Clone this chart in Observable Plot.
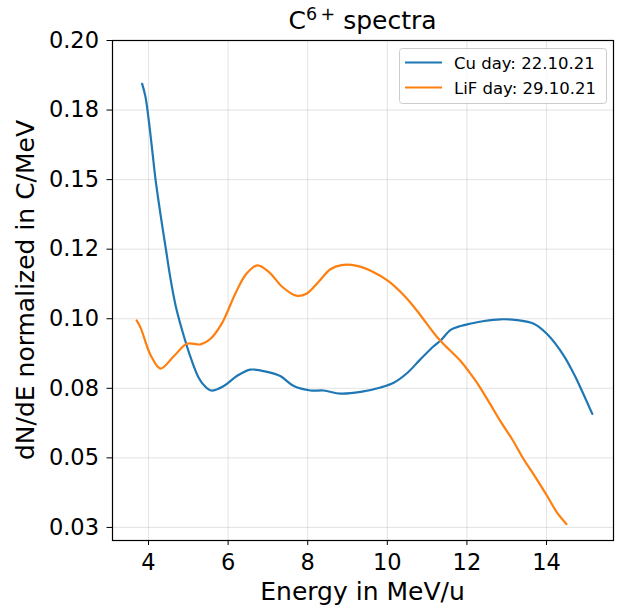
<!DOCTYPE html>
<html>
<head>
<meta charset="utf-8">
<script src="https://cdn.jsdelivr.net/npm/d3@7"></script>
<script src="https://cdn.jsdelivr.net/npm/@observablehq/plot@0.6"></script>
<style>
  html, body { margin: 0; padding: 0; background: white; }
  #chart { width: 617px; height: 610px; }
</style>
</head>
<body>
<div id="chart"></div>
<script>
// ---- data ----
const cuEnergy = [3.84, 3.92, 4.00, 4.09, 4.18, 4.30, 4.43, 4.55, 4.68, 4.85, 5.06, 5.26, 5.40, 5.58, 5.89, 6.22, 6.56, 6.98, 7.31, 7.65, 8.07, 8.40, 8.82, 9.33, 9.83, 10.16, 10.50, 10.83, 11.17, 11.34, 11.59, 11.84, 12.10, 12.43, 12.84, 13.26, 13.68, 14.02, 14.44, 14.65, 14.77, 15.15];
const cuValue  = [0.1844, 0.1800, 0.1720, 0.1610, 0.1496, 0.1376, 0.1256, 0.1146, 0.1048, 0.0956, 0.0860, 0.0788, 0.0760, 0.0742, 0.0758, 0.0794, 0.0817, 0.0809, 0.0794, 0.0758, 0.0742, 0.0742, 0.0731, 0.0737, 0.0753, 0.0770, 0.0805, 0.0854, 0.0902, 0.0922, 0.0960, 0.0974, 0.0983, 0.0992, 0.0998, 0.0995, 0.0982, 0.0944, 0.0866, 0.0812, 0.0778, 0.0658];

const lifEnergy = [3.70, 3.80, 4.05, 4.30, 4.64, 4.97, 5.31, 5.56, 5.85, 6.18, 6.45, 6.74, 7.04, 7.35, 7.71, 7.97, 8.28, 8.57, 8.85, 9.24, 9.62, 10.02, 10.45, 10.75, 11.30, 11.84, 12.05, 12.30, 12.59, 12.84, 13.14, 13.43, 13.68, 14.02, 14.27, 14.50];
const lifValue  = [0.0994, 0.0968, 0.0870, 0.0821, 0.0866, 0.0910, 0.0908, 0.0928, 0.0985, 0.1090, 0.1160, 0.1192, 0.1166, 0.1116, 0.1083, 0.1090, 0.1134, 0.1178, 0.1193, 0.1190, 0.1170, 0.1136, 0.1079, 0.1028, 0.0926, 0.0848, 0.0810, 0.0760, 0.0692, 0.0632, 0.0566, 0.0494, 0.0440, 0.0362, 0.0302, 0.0262];

const seriesNames = ["Cu day: 22.10.21", "LiF day: 29.10.21"];
const seriesColors = ["#1f77b4", "#ff7f0e"];

const xTicks = [4, 6, 8, 10, 12, 14];
const yTicks = [0.025, 0.05, 0.075, 0.1, 0.125, 0.15, 0.175, 0.2];
const yTickLabels = ["0.03", "0.05", "0.08", "0.10", "0.12", "0.15", "0.18", "0.20"];

const titleMain = "C";
const titleSup = "6+";
const titleRest = "spectra";
const xLabel = "Energy in MeV/u";
const yLabel = "dN/dE normalized in C/MeV";

// ---- build table ----
const rows = [];
cuEnergy.forEach((e, i) => rows.push({series: seriesNames[0], energy: e, value: cuValue[i]}));
lifEnergy.forEach((e, i) => rows.push({series: seriesNames[1], energy: e, value: lifValue[i]}));

const W = 617, H = 610;
const mL = 112, mR = 4, mT = 40, mB = 70;
const gridStyle = {stroke: "#b0b0b0", strokeOpacity: 0.45, strokeWidth: 0.8};

const svg = Plot.plot({
  width: W,
  height: H,
  marginLeft: mL,
  marginRight: mR,
  marginTop: mT,
  marginBottom: mB,
  style: {fontFamily: "DejaVu Sans", background: "white", color: "black", overflow: "visible"},
  x: {domain: [3.095, 15.683]},
  y: {domain: [0.0203, 0.2]},
  color: {domain: seriesNames, range: seriesColors},
  marks: [
    Plot.gridX({ticks: xTicks, ...gridStyle}),
    Plot.gridY({ticks: yTicks, ...gridStyle}),
    Plot.axisX({ticks: xTicks, tickSize: 5, tickPadding: 9, fontSize: 22.5, label: null, stroke: "black", strokeWidth: 1, color: "black"}),
    Plot.axisY({ticks: yTicks, tickSize: 5.5, tickPadding: 8, fontSize: 22.5, label: null,
      tickFormat: d => yTickLabels[yTicks.findIndex(t => Math.abs(t - d) < 1e-9)], stroke: "black", color: "black"}),
    Plot.line(rows, {x: "energy", y: "value", z: "series", stroke: "series", strokeWidth: 2.2, curve: "catmull-rom"}),
    Plot.frame({stroke: "black", strokeWidth: 1.2})
  ]
});

const s = d3.select(svg);
// title
const t = s.append("text")
  .attr("x", 362.5).attr("y", 29)
  .attr("text-anchor", "middle")
  .attr("font-family", "DejaVu Sans")
  .attr("font-size", 25)
  .attr("fill", "black");
t.append("tspan").text(titleMain);
t.append("tspan").attr("font-size", 17.5).attr("dy", -9.5).text(titleSup.split("").join("\u2009"));
t.append("tspan").attr("dy", 9.5).text("\u00a0" + titleRest);

// axis labels
s.append("text")
  .attr("x", (mL + W - mR) / 2).attr("y", 600)
  .attr("text-anchor", "middle")
  .attr("font-family", "DejaVu Sans").attr("font-size", 25).attr("fill", "black")
  .text(xLabel);
s.append("text")
  .attr("transform", `translate(34,${(mT + H - mB) / 2}) rotate(-90)`)
  .attr("text-anchor", "middle")
  .attr("font-family", "DejaVu Sans").attr("font-size", 25).attr("fill", "black")
  .text(yLabel);

// legend
const lg = s.append("g");
lg.append("rect").attr("x", 399.5).attr("y", 48.5).attr("width", 207).attr("height", 55)
  .attr("rx", 3).attr("fill", "white").attr("fill-opacity", 0.8)
  .attr("stroke", "#cccccc").attr("stroke-width", 1);
seriesNames.forEach((name, i) => {
  const cy = 62.5 + i * 25;
  lg.append("line").attr("x1", 405).attr("x2", 442).attr("y1", cy).attr("y2", cy)
    .attr("stroke", seriesColors[i]).attr("stroke-width", 2.2);
  lg.append("text").attr("x", 454).attr("y", cy + 6)
    .attr("text-anchor", "start")
    .attr("font-family", "DejaVu Sans").attr("font-size", 16.5).attr("fill", "black")
    .text(name);
});

document.getElementById("chart").appendChild(svg);
</script>
</body>
</html>
